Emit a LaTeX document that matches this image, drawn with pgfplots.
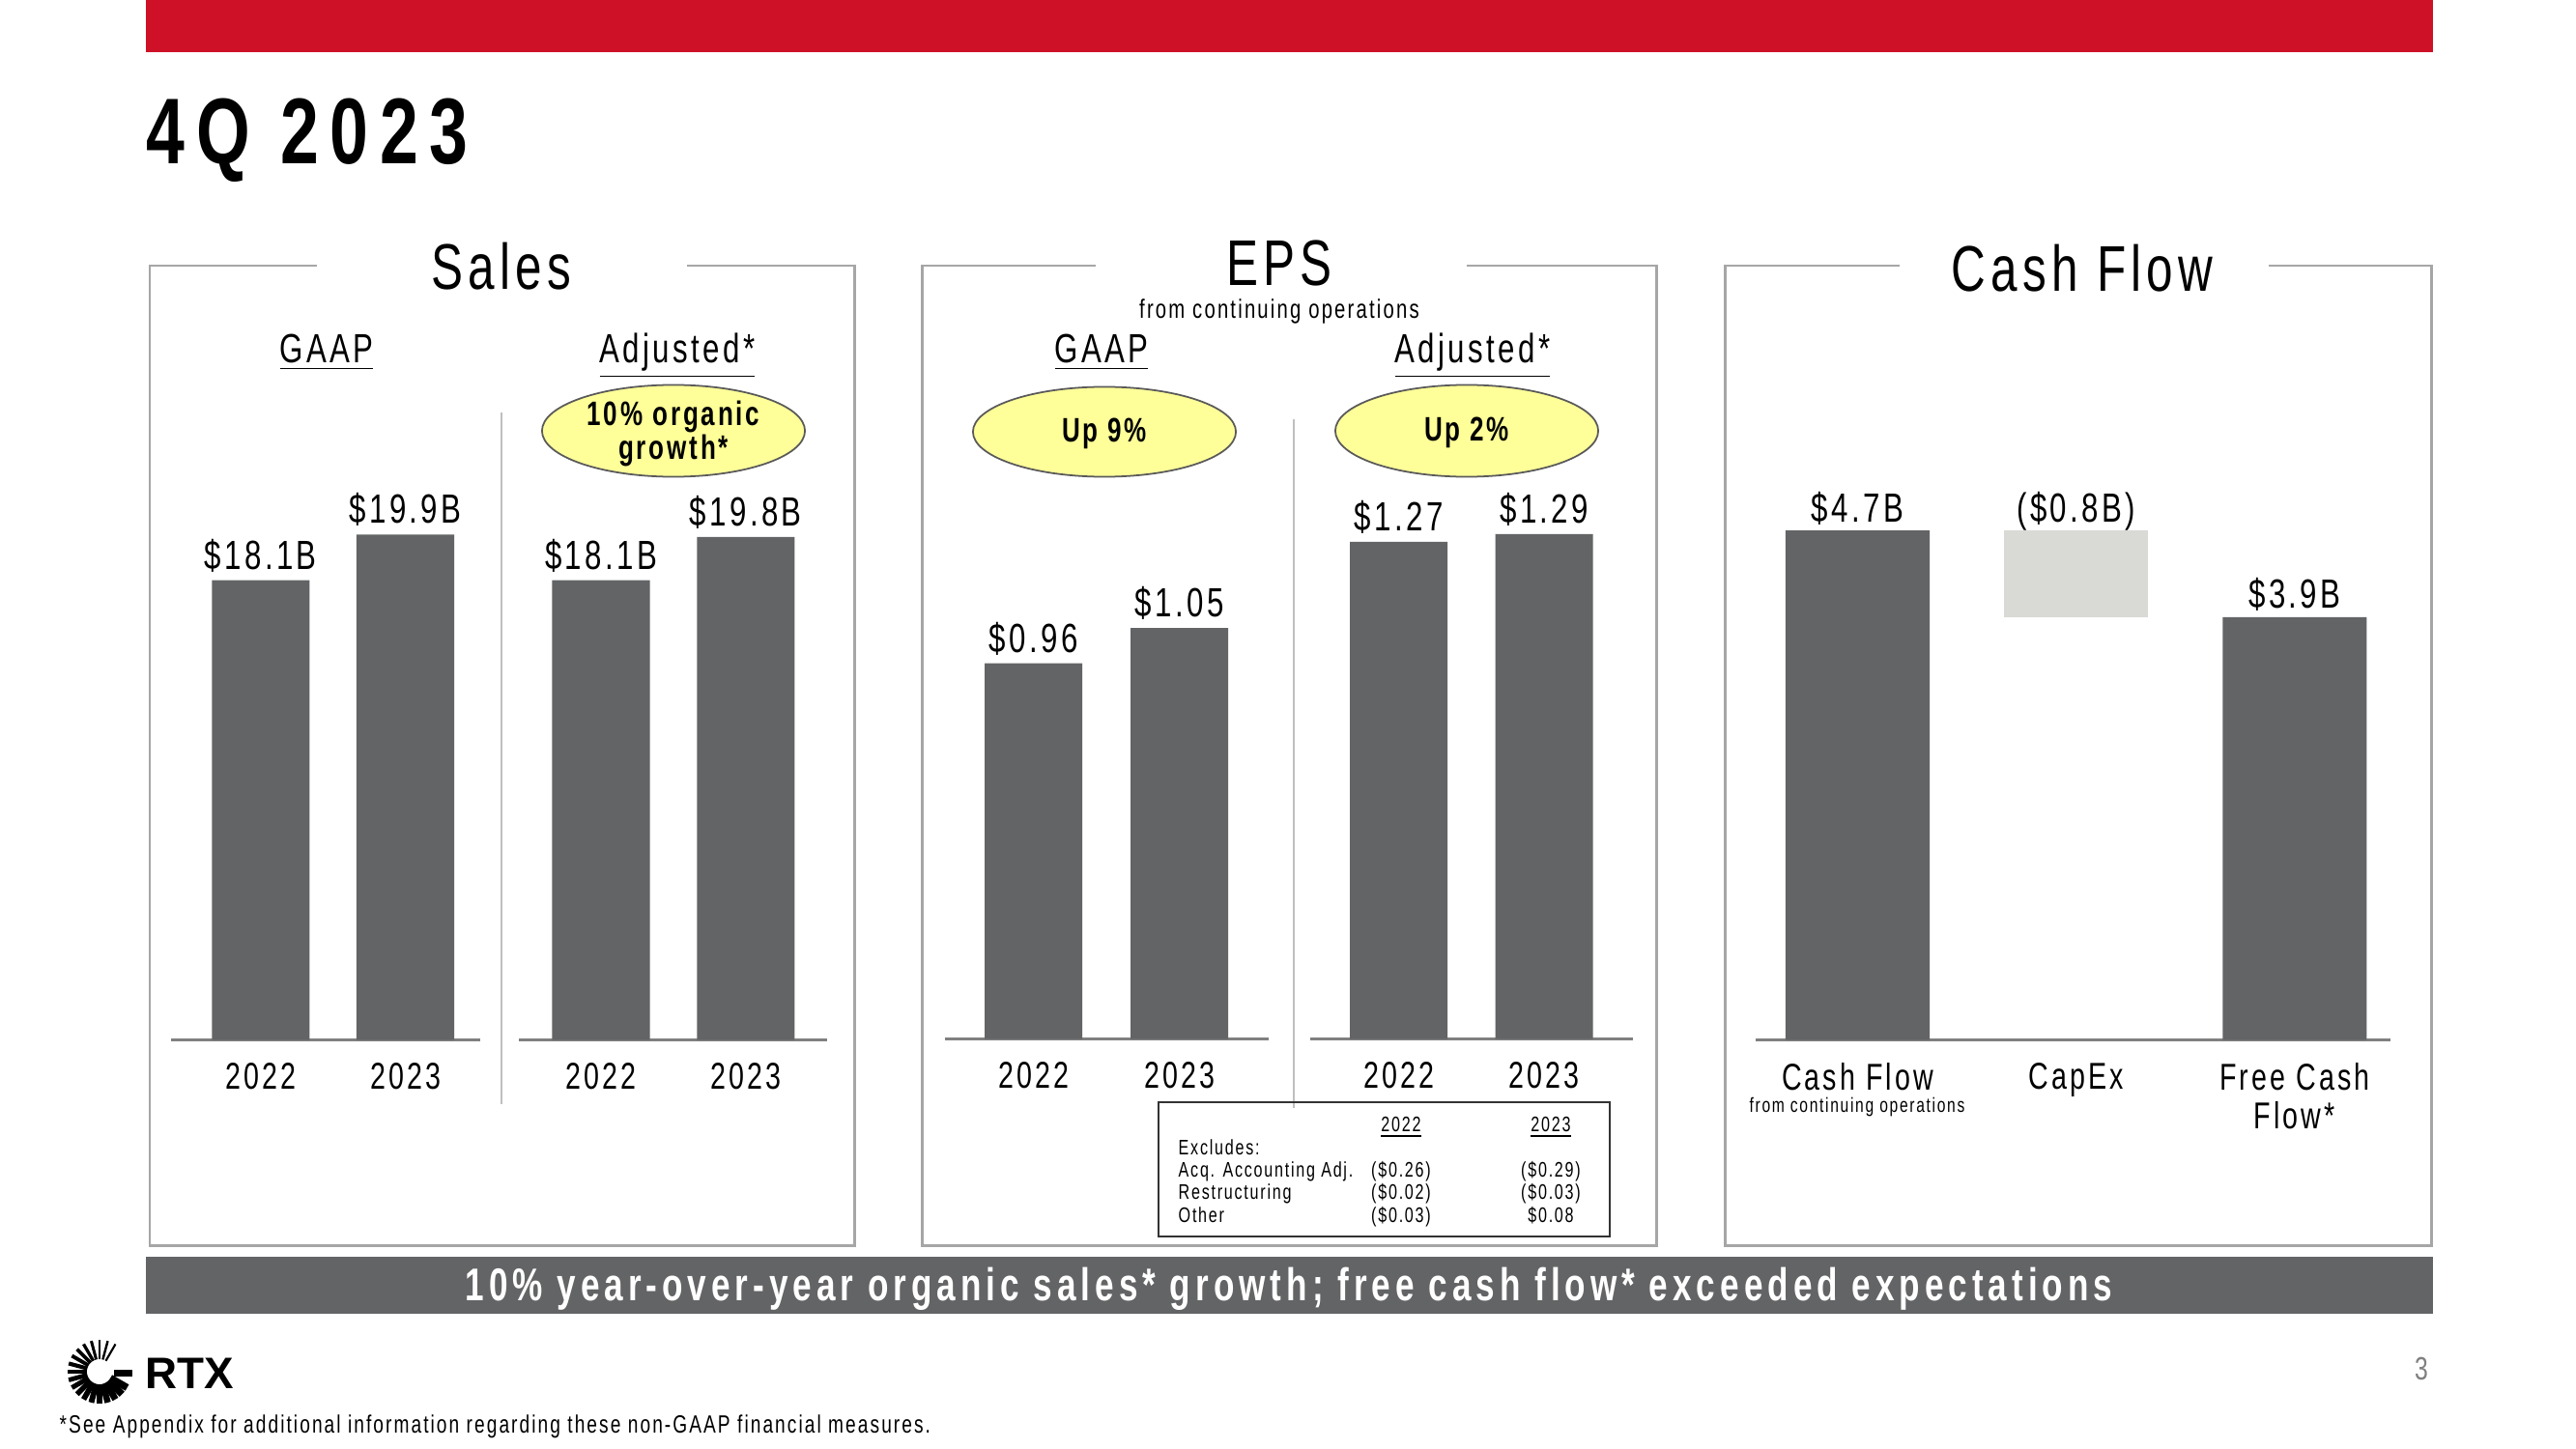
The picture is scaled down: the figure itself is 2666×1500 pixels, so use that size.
\documentclass[border=0pt]{standalone}
\usepackage{pgfplots}
\pgfplotsset{compat=1.18}
\usepackage{fontspec}
\setmainfont{Liberation Sans}[FakeStretch=0.74,LetterSpace=8]
\newfontfamily\titlefont{Liberation Sans}[FakeStretch=0.74,LetterSpace=12]
\newfontfamily\bannerfont{Liberation Sans}[FakeStretch=0.74,LetterSpace=10.5]
\newfontfamily\logofont{Liberation Sans}
\definecolor{rtxred}{RGB}{206,17,38}
\definecolor{barc}{RGB}{99,100,102}
\definecolor{capexc}{RGB}{217,217,214}
\definecolor{boxc}{RGB}{166,166,166}
\definecolor{sepc}{RGB}{191,191,191}
\definecolor{axc}{RGB}{128,128,128}
\definecolor{ellc}{RGB}{255,255,153}
\definecolor{elld}{RGB}{90,90,90}
\newcommand\fs[2]{\fontsize{#1}{#2}\selectfont}
\pgfplotsset{
  rtx/.style={
    scale only axis, anchor=south west, ymin=0, clip=false,
    axis y line=none, axis x line*=bottom,
    x axis line style={draw=axc, line width=0.8pt, -},
    major tick length=0pt,
    xticklabel style={anchor=north, inner sep=0pt, yshift=-0.23cm, font=\fs{11}{11.3}, align=center},
    nodes near coords={\smash{\pgfplotspointmeta}},
    point meta=explicit symbolic,
    every node near coord/.append style={font=\fs{12}{14}, inner sep=0pt, yshift=0.09cm},
  },
}
\begin{document}
\begin{tikzpicture}[x=0.01cm,y=-0.01cm]
\path[fill=white] (0,0) rectangle (2666,1500);
% top red band and title
\fill[rtxred] (151,0) rectangle (2518,54);
\node[anchor=base west, inner sep=0pt, font=\titlefont\fs{27.5}{30}\bfseries] at (151,170) {4Q 2023};
% panel frames
\draw[boxc, line width=0.85pt] (328,275) -- (155,275) -- (155,1289) -- (884,1289) -- (884,275) -- (711,275);
\draw[boxc, line width=0.85pt] (1134,275) -- (954,275) -- (954,1289) -- (1714,1289) -- (1714,275) -- (1518,275);
\draw[boxc, line width=0.85pt] (1966,275) -- (1785,275) -- (1785,1289) -- (2516,1289) -- (2516,275) -- (2348,275);
% panel titles
\node[anchor=base, inner sep=0pt, font=\fs{19}{22}] at (519,299) {Sales};
\node[anchor=base, inner sep=0pt, font=\fs{19}{22}] at (1324,296) {EPS};
\node[anchor=base, inner sep=0pt, font=\fs{7.8}{9}] at (1324,330) {from continuing operations};
\node[anchor=base, inner sep=0pt, font=\fs{19}{22}] at (2155,301) {Cash Flow};
% sub headings
\node[anchor=base, inner sep=0pt, font=\fs{12}{14}] at (338,376) {\underline{GAAP}};
\node[anchor=base, inner sep=0pt, font=\fs{12}{14}] at (701,376) {\underline{Adjusted*}};
\node[anchor=base, inner sep=0pt, font=\fs{12}{14}] at (1140,376) {\underline{GAAP}};
\node[anchor=base, inner sep=0pt, font=\fs{12}{14}] at (1524,376) {\underline{Adjusted*}};
% separators
\draw[sepc, line width=0.5pt] (519,427) -- (519,1143);
\draw[sepc, line width=0.5pt] (1339,434) -- (1339,1147);
% ellipses
\draw[elld, line width=0.5pt, fill=ellc] (697,446) ellipse [x radius=1.36cm, y radius=0.475cm];
\draw[elld, line width=0.5pt, fill=ellc] (1143,447) ellipse [x radius=1.36cm, y radius=0.465cm];
\draw[elld, line width=0.5pt, fill=ellc] (1518,446) ellipse [x radius=1.36cm, y radius=0.475cm];
\node[align=center, inner sep=0pt, font=\fs{10}{10.2}\bfseries] at (697,449) {10\% organic\\growth*};
\node[inner sep=0pt, font=\fs{10}{12}\bfseries] at (1143,449) {Up 9\%};
\node[inner sep=0pt, font=\fs{10}{12}\bfseries] at (1518,448) {Up 2\%};

% Sales GAAP
\begin{axis}[rtx, at={(1.77cm,-10.76cm)}, width=3.20cm, height=6.57cm,
  xmin=-0.62, xmax=1.52, ymax=25, xtick={0,1}, xticklabels={2022,2023},
  ybar, bar width=1.01cm]
\addplot[fill=barc, draw=none] coordinates {(0,18.1) [\$18.1B] (1,19.9) [\$19.9B]};
\end{axis}
% Sales Adjusted
\begin{axis}[rtx, at={(5.37cm,-10.76cm)}, width=3.19cm, height=6.57cm,
  xmin=-0.565, xmax=1.565, ymax=25, xtick={0,1}, xticklabels={2022,2023},
  ybar, bar width=1.01cm]
\addplot[fill=barc, draw=none] coordinates {(0,18.1) [\$18.1B] (1,19.8) [\$19.8B]};
\end{axis}
% EPS GAAP
\begin{axis}[rtx, at={(9.77cm,-10.75cm)}, width=3.35cm, height=6.48cm,
  xmin=-0.61, xmax=1.61, ymax=1.6, xtick={0,1}, xticklabels={2022,2023},
  ybar, bar width=1.01cm]
\addplot[fill=barc, draw=none] coordinates {(0,0.96) [\$0.96] (1,1.05) [\$1.05]};
\end{axis}
% EPS Adjusted
\begin{axis}[rtx, at={(13.55cm,-10.75cm)}, width=3.34cm, height=6.48cm,
  xmin=-0.61, xmax=1.61, ymax=1.6, xtick={0,1}, xticklabels={2022,2023},
  ybar, bar width=1.01cm]
\addplot[fill=barc, draw=none] coordinates {(0,1.27) [\$1.27] (1,1.29) [\$1.29]};
\end{axis}
% Cash flow
\begin{axis}[rtx, at={(18.16cm,-10.76cm)}, width=6.57cm, height=6.73cm,
  xmin=-0.466, xmax=2.44, ymax=6, xtick={0,1,2},
  xticklabels={Cash Flow,CapEx,{Free Cash\\Flow*}},
  ybar stacked, bar width=1.49cm]
\addplot[fill=barc, draw=none] coordinates {(0,4.7) [\$4.7B] (1,0) [] (2,3.9) [\$3.9B]};
\addplot[fill=none, draw=none] coordinates {(0,0) [] (1,3.9) [] (2,0) []};
\addplot[fill=capexc, draw=none] coordinates {(0,0) [] (1,0.8) [(\$0.8B)] (2,0) []};
\end{axis}
\node[anchor=base, inner sep=0pt, font=\fs{6}{7}] at (1922,1151) {from continuing operations};

% excludes table
\draw[black!80, line width=0.6pt] (1199,1141) rectangle (1666,1280);
\begin{scope}[every node/.style={inner sep=0pt, font=\fs{6.2}{7}}]
\node[anchor=base] at (1450,1171) {\underline{2022}};
\node[anchor=base] at (1605,1171) {\underline{2023}};
\node[anchor=base west] at (1219,1195) {Excludes:};
\node[anchor=base west] at (1219,1218) {Acq. Accounting Adj.};
\node[anchor=base west] at (1219,1241) {Restructuring};
\node[anchor=base west] at (1219,1265) {Other};
\node[anchor=base] at (1450,1218) {(\$0.26)};
\node[anchor=base] at (1450,1241) {(\$0.02)};
\node[anchor=base] at (1450,1265) {(\$0.03)};
\node[anchor=base] at (1605,1218) {(\$0.29)};
\node[anchor=base] at (1605,1241) {(\$0.03)};
\node[anchor=base] at (1605,1265) {\$0.08};
\end{scope}

% bottom banner
\fill[barc] (151,1301) rectangle (2518,1360);
\node[anchor=base, inner sep=0pt, text=white, font=\bannerfont\fs{13.5}{15}\bfseries] at (1334,1346)
  {10\% year-over-year organic sales* growth; free cash flow* exceeded expectations};

% logo
\begin{scope}[shift={(103,1420)}]
\foreach \a in {60,75,...,330} {
  \pgfmathsetmacro\w{0.6+1.5*(\a-60)/270}
  \draw[line width=\w pt] (-\a:13) -- (-\a:33);
}
\fill (15,-2) rectangle (34,5);
\end{scope}
\node[anchor=base west, inner sep=0pt, font=\logofont\fs{13}{15}\bfseries] at (150,1437) {RTX};
% page number and footnote
\node[anchor=base, inner sep=0pt, text=axc, font=\fs{9.5}{11}] at (2506,1428) {3};
\node[anchor=base west, inner sep=0pt, font=\fs{7.35}{8.5}] at (61,1483)
  {*See Appendix for additional information regarding these non-GAAP financial measures.};
\end{tikzpicture}
\end{document}
